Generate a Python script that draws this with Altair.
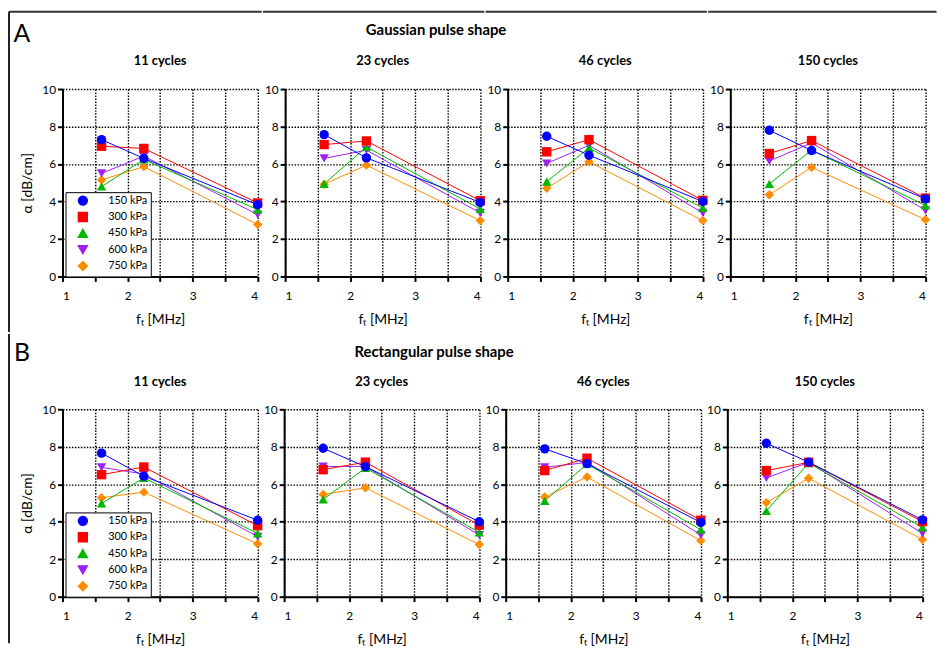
import altair as alt
import pandas as pd

# ---------------- data ----------------
freqs = [1.6, 2.25, 4.0]
pressures = ["150 kPa", "300 kPa", "450 kPa", "600 kPa", "750 kPa"]
cycle_titles = ["11 cycles", "23 cycles", "46 cycles", "150 cycles"]
colors = ["#0000FF", "#FF0000", "#00B800", "#A020F0", "#FF8C00"]
shapes = ["circle", "square", "triangle-up", "triangle-down", "diamond"]

# Gaussian pulse shape: rows = pressures, cols = freqs
gauss_11 = [[7.30, 6.30, 3.83], [6.95, 6.83, 3.92], [4.80, 6.24, 3.56], [5.50, 6.42, 3.30], [5.15, 5.86, 2.77]]
gauss_23 = [[7.57, 6.33, 3.95], [7.04, 7.23, 4.04], [4.94, 6.91, 3.60], [6.30, 6.74, 3.39], [4.92, 5.94, 2.98]]
gauss_46 = [[7.48, 6.47, 4.00], [6.65, 7.30, 4.06], [5.06, 6.86, 3.65], [6.03, 7.00, 3.39], [4.71, 6.12, 2.98]]
gauss_150 = [[7.80, 6.72, 4.14], [6.56, 7.25, 4.18], [4.94, 6.74, 3.79], [6.16, 7.13, 3.53], [4.36, 5.82, 3.03]]

# Rectangular pulse shape
rect_11 = [[7.66, 6.43, 4.08], [6.51, 6.92, 3.79], [4.98, 6.34, 3.38], [6.90, 6.55, 3.20], [5.28, 5.58, 2.82]]
rect_23 = [[7.92, 6.94, 4.00], [6.78, 7.18, 3.82], [5.19, 6.87, 3.43], [6.95, 6.95, 3.29], [5.46, 5.81, 2.78]]
rect_46 = [[7.89, 7.10, 3.96], [6.73, 7.39, 4.08], [5.11, 7.08, 3.57], [6.90, 7.17, 3.29], [5.32, 6.39, 2.99]]
rect_150 = [[8.19, 7.18, 4.10], [6.73, 7.17, 4.01], [4.58, 7.13, 3.70], [6.34, 7.17, 3.38], [5.02, 6.32, 3.05]]

FONT = "Lato"
W, H = 196.8, 189
L_EXT, R_EXT = 22.3, 4.1     # horizontal extents used to space the panels
GAP = -1.5                    # slight overlap so the frame segments join
one = pd.DataFrame({"k": [0]})


def to_df(values):
    rows = []
    # draw 750 kPa first so that 150 kPa ends up on top
    for p, series in reversed(list(zip(pressures, values))):
        for f, a in zip(freqs, series):
            rows.append({"f": f, "a": a, "p": p})
    return pd.DataFrame(rows)


def panel(values, title, first, extras):
    df = to_df(values)
    x = alt.X(
        "f:Q",
        scale=alt.Scale(domain=[1, 4], nice=False, zero=False),
        axis=alt.Axis(
            values=[1, 1.5, 2, 2.5, 3, 3.5, 4],
            labelExpr="datum.value % 1 == 0 ? format(datum.value, 'd') : ''",
            title="fₜ [MHz]",
            titlePadding=11,
            labelPadding=9,
        ),
    )
    if first:
        yaxis = alt.Axis(values=[0, 2, 4, 6, 8, 10], title="α [dB/cm]", titlePadding=7, labelPadding=2)
    else:
        yaxis = alt.Axis(values=[0, 2, 4, 6, 8, 10], title=None, labelPadding=2)
    y = alt.Y("a:Q", scale=alt.Scale(domain=[0, 10], nice=False), axis=yaxis)
    if first:
        leg = alt.Legend(
            title=None,
            orient="none",
            legendX=3,
            legendY=104,
            strokeColor="black",
            fillColor="white",
            padding=3,
            labelFontSize=11,
            labelFont=FONT,
            labelColor="black",
            symbolSize=80,
            symbolOffset=9,
            labelOffset=20,
            rowPadding=1.5,
        )
    else:
        leg = None
    color = alt.Color("p:N", scale=alt.Scale(domain=pressures, range=colors), legend=leg)
    shape = alt.Shape("p:N", scale=alt.Scale(domain=pressures, range=shapes), legend=leg)

    base = alt.Chart(df)
    lines = base.mark_line(strokeWidth=1).encode(x=x, y=y, color=color)
    pts = base.mark_point(filled=True, size=90, opacity=1).encode(x=x, y=y, color=color, shape=shape)
    ttl = alt.Chart(pd.DataFrame({"t": [title]})).mark_text(
        fontSize=13, fontWeight="bold", font=FONT, align="center", baseline="alphabetic", color="black"
    ).encode(text="t:N", x=alt.value(W / 2), y=alt.value(-24))
    return alt.layer(lines, pts, ttl, *extras).properties(width=W, height=H)


def left_decor(letter, letter_y, rule_y, rule_y2):
    t = alt.Chart(pd.DataFrame({"t": [letter]})).mark_text(
        fontSize=25, font=FONT, align="center", baseline="middle", color="black"
    ).encode(text="t:N", x=alt.value(-41), y=alt.value(letter_y))
    r = alt.Chart(one).mark_rule(color="#222", strokeWidth=2).encode(
        x=alt.value(-54), y=alt.value(rule_y), y2=alt.value(rule_y2)
    )
    return [t, r]


def top_segment(i, y, visible):
    x1 = -54 if i == 0 else -L_EXT
    x2 = 208 if i == 3 else W + R_EXT
    return alt.Chart(one).mark_rule(
        color="#333", strokeWidth=2, strokeOpacity=1 if visible else 0
    ).encode(x=alt.value(x1), x2=alt.value(x2), y=alt.value(y))


def row(datasets, row_title, decor, top_y, visible):
    panels = []
    for i, (d, t) in enumerate(zip(datasets, cycle_titles)):
        extras = [top_segment(i, top_y, visible)]
        if i == 0:
            extras += decor
        panels.append(panel(d, t, i == 0, extras))
    return alt.hconcat(
        *panels,
        spacing=GAP,
        title=alt.Title(
            row_title, fontSize=15, fontWeight="bold", font=FONT, anchor="middle",
            dx=-37, offset=-27.5, color="black",
        ),
    ).resolve_scale(color="independent", shape="independent")


rowA = row([gauss_11, gauss_23, gauss_46, gauss_150], "Gaussian pulse shape",
           left_decor("A", -55, -78, 245), -78, True)
rowB = row([rect_11, rect_23, rect_46, rect_150], "Rectangular pulse shape",
           left_decor("B", -57, -76, 236), 0, False)

chart = (
    alt.vconcat(rowA, rowB, spacing=0)
    .resolve_scale(color="independent", shape="independent")
    .properties(padding=0)
    .configure_view(strokeWidth=0)
    .configure_axis(
        domainColor="black",
        domainWidth=2,
        tickColor="black",
        tickWidth=2,
        tickSize=5,
        labelFont=FONT,
        labelFontSize=12,
        labelColor="black",
        titleFont=FONT,
        titleFontSize=14,
        titleFontWeight="normal",
        titleColor="black",
        grid=True,
        gridColor="black",
        gridDash=[1.5, 1.5],
        gridWidth=1.4,
        gridOpacity=1,
    )
)

chart.save("out.html", embed_options={"renderer": "svg", "actions": False})
